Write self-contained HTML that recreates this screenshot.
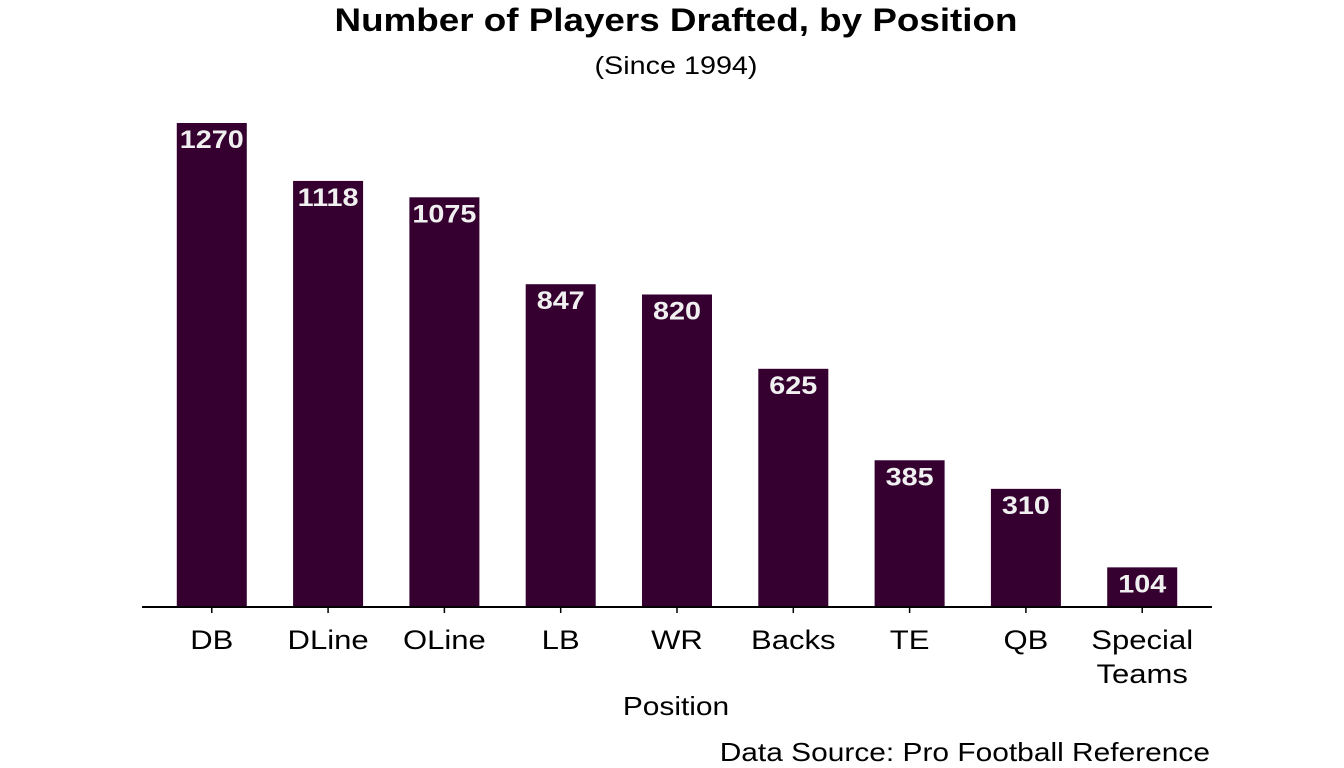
<!DOCTYPE html>
<html><head><meta charset="utf-8">
<style>
body{margin:0;background:#fff;}
svg{display:block;font-family:"Liberation Sans",Arial,sans-serif;}
</style></head>
<body>
<svg id="chart" width="1344" height="768">
<text x="676" y="31" text-anchor="middle" font-size="32" font-weight="bold" fill="#000">Number of Players Drafted, by Position</text>
<text x="676" y="74" text-anchor="middle" font-size="25" fill="#000">(Since 1994)</text>
<g id="bars"></g>
<line x1="142" x2="1212" y1="607" y2="607" stroke="#000" stroke-width="2"/>
<g id="xticks"></g>
<text x="676" y="715" text-anchor="middle" font-size="26" fill="#000">Position</text>
<text x="1210" y="761" text-anchor="end" font-size="26" fill="#000">Data Source: Pro Football Reference</text>
</svg>
<script>
const categories = ["DB","DLine","OLine","LB","WR","Backs","TE","QB","Special\nTeams"];
const values = [1270,1118,1075,847,820,625,385,310,104];
const NS="http://www.w3.org/2000/svg";
const x0=142, x1=1212, y0=607, yScale=484/1270;
const step=(x1-x0)/(categories.length-1+1.2);
const bw=70;
function xPos(i){return x0+0.6*step+i*step;}
function yPos(v){return y0-v*yScale;}
const gb=document.getElementById('bars'), gt=document.getElementById('xticks');
categories.forEach((c,i)=>{
  const cx=xPos(i), v=values[i];
  const r=document.createElementNS(NS,'rect');
  r.setAttribute('x',cx-bw/2);r.setAttribute('y',yPos(v));
  r.setAttribute('width',bw);r.setAttribute('height',y0-yPos(v));
  r.setAttribute('fill','#35002f');
  
  
  gb.appendChild(r);
  const t=document.createElementNS(NS,'text');
  t.setAttribute('x',cx);t.setAttribute('y',yPos(v)+25);
  t.setAttribute('text-anchor','middle');t.setAttribute('font-size','25');
  t.setAttribute('font-weight','bold');t.setAttribute('fill','#f0f0f0');
  t.textContent=v;
  
  
  gb.appendChild(t);
  const tk=document.createElementNS(NS,'line');
  tk.setAttribute('x1',cx);tk.setAttribute('x2',cx);tk.setAttribute('y1',y0);tk.setAttribute('y2',y0+6);
  tk.setAttribute('stroke','#000');tk.setAttribute('stroke-width','1.5');
  
  
  gt.appendChild(tk);
  c.split('\n').forEach((line,j)=>{
    const l=document.createElementNS(NS,'text');
    l.setAttribute('x',cx);l.setAttribute('y',649+j*34);
    l.setAttribute('text-anchor','middle');l.setAttribute('font-size','27');l.setAttribute('fill','#000');
    l.textContent=line;
    
    
    gt.appendChild(l);
  });
});
document.querySelectorAll('#chart text').forEach(el=>{
  const w=el.getComputedTextLength();
  el.setAttribute('textLength', w*1.15);
  el.setAttribute('lengthAdjust','spacingAndGlyphs');
});
</script>
</body></html>
